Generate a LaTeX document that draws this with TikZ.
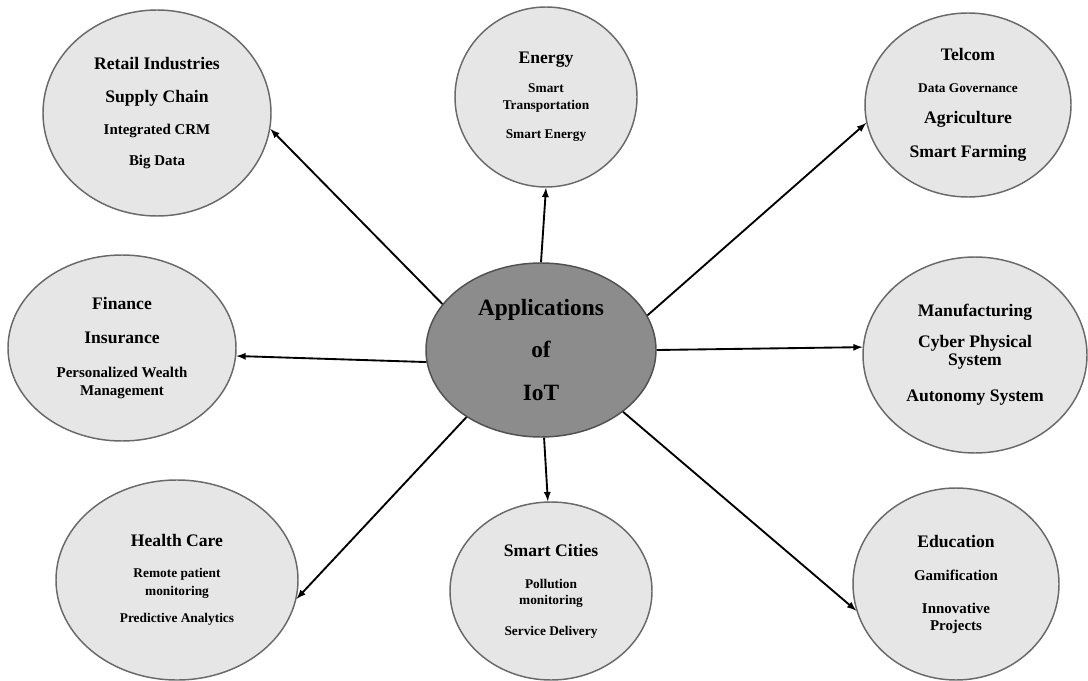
\documentclass[tikz,border=0pt]{standalone}
\usepackage{fontspec}
\setmainfont{Liberation Serif}
\usepackage{tikz}
\usetikzlibrary{arrows,shapes.geometric}

\definecolor{blobfill}{RGB}{230,230,230}
\definecolor{blobline}{RGB}{105,105,105}
\definecolor{hubfill}{RGB}{140,140,140}
\definecolor{hubline}{RGB}{80,80,80}

\newcommand{\bigsz}{\fontsize{17.5}{21}\selectfont}
\newcommand{\ttlsz}{\fontsize{13.2}{16}\selectfont}
\newcommand{\midsz}{\fontsize{11.2}{13}\selectfont}
\newcommand{\smlsz}{\fontsize{10}{12}\selectfont}
\newcommand{\lsp}[1]{\bfseries\fontsize{10}{#1}\selectfont}

\begin{document}
\begin{tikzpicture}[x=0.75pt,y=0.75pt]
\tikzstyle{every node}+=[inner sep=0pt]
\tikzstyle{blob}=[ellipse, draw=blobline, fill=blobfill, line width=1.1pt, align=center]
\tikzstyle{hub}=[ellipse, draw=hubline, fill=hubfill, line width=1.1pt, align=center]
\tikzstyle{link}=[-latex, line width=1.4pt]
\useasboundingbox (0,0) rectangle (1088,-681);
% centre
\node [hub, minimum width=172.5pt, minimum height=130.5pt, font=\lsp{32}] (iot) at (541,-350)
  {\bigsz Applications\\ \bigsz of\\ \bigsz IoT};
% top row
\node [blob, minimum width=171pt, minimum height=154.5pt, font=\lsp{23}] (retail) at (157,-113)
  {\ttlsz Retail Industries\\[1.5pt] \ttlsz Supply Chain\\[1.5pt] \midsz Integrated CRM\\ \midsz Big Data};
\node [blob, minimum width=136.5pt, minimum height=135pt, font=\lsp{12.75}] (energy) at (546,-97)
  {\ttlsz Energy\\[9pt] \smlsz Smart\\ \smlsz Transportation\\[9pt] \smlsz Smart Energy};
\node [blob, minimum width=154.5pt, minimum height=138pt, font=\lsp{23.5}] (telcom) at (968,-105)
  {\ttlsz Telcom\\ \smlsz Data Governance\\ \ttlsz Agriculture\\[2pt] \ttlsz Smart Farming};
% middle row
\node [blob, minimum width=171pt, minimum height=139.5pt, font=\lsp{13.5}] (finance) at (122,-348)
  {\ttlsz Finance\\[12pt] \ttlsz Insurance\\[12pt] \midsz Personalized Wealth\\ \midsz Management};
\node [blob, minimum width=168pt, minimum height=147pt, font=\lsp{13.5}] (manuf) at (975,-355)
  {\ttlsz Manufacturing\\[9.75pt] \ttlsz Cyber Physical\\ \ttlsz System\\[13.5pt] \ttlsz Autonomy System};
% bottom row
\node [blob, minimum width=181.5pt, minimum height=150pt, font=\lsp{13.5}] (health) at (177,-580)
  {\ttlsz Health Care\\[9.75pt] \smlsz Remote patient\\ \smlsz monitoring\\[6.75pt] \smlsz Predictive Analytics};
\node [blob, minimum width=151.5pt, minimum height=133.5pt, font=\lsp{12}] (cities) at (551,-591)
  {\ttlsz Smart Cities\\[12pt] \smlsz Pollution\\ \smlsz monitoring\\[11.25pt] \smlsz Service Delivery};
\node [blob, minimum width=154.5pt, minimum height=144pt, font=\lsp{12.75}] (educ) at (956,-584)
  {\ttlsz Education\\[12pt] \midsz Gamification\\[12pt] \midsz Innovative\\ \midsz Projects};
% spokes
\draw [link] (iot.155) -- (retail.-8);
\draw [link] (iot.90) -- (energy.-90);
\draw [link] (iot.18) -- (telcom.190);
\draw [link] (iot.186) -- (finance.-4);
\draw [link] (iot.0) -- (manuf.176);
\draw [link] (iot.222) -- (health.-9);
\draw [link] (iot.-88) -- (cities.92);
\draw [link] (iot.-37) -- (educ.195);
\end{tikzpicture}
\end{document}
